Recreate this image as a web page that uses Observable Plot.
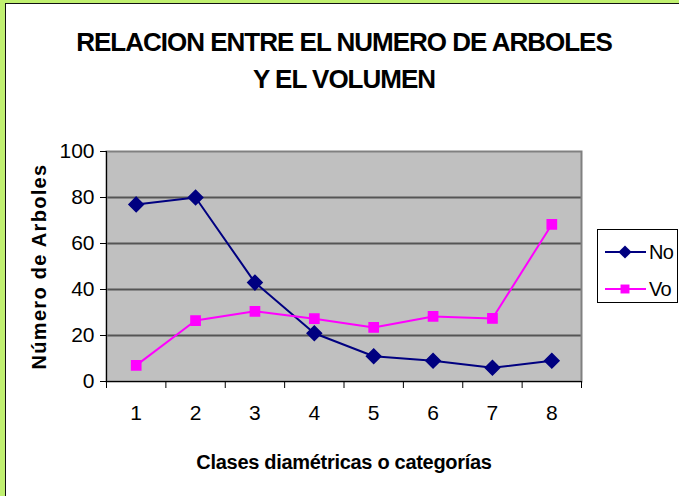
<!DOCTYPE html>
<html>
<head>
<meta charset="utf-8">
<script src="https://cdn.jsdelivr.net/npm/d3@7"></script>
<script src="https://cdn.jsdelivr.net/npm/@observablehq/plot@0.6"></script>
<style>
  html, body { margin: 0; padding: 0; background: #fff; }
  #page { position: relative; width: 679px; height: 496px; overflow: hidden; background: #fff;
          font-family: "Liberation Sans", Arial, sans-serif; }
  #gl { position: absolute; left: 0; top: 0; width: 5px; height: 496px; background: #c0f070; }
  #gt { position: absolute; left: 0; top: 0; width: 679px; height: 3px; background: #c0f070; }
  #bl { position: absolute; left: 5px; top: 3px; width: 1px; height: 493px; background: #111; }
  #bt { position: absolute; left: 5px; top: 3px; width: 674px; height: 1px; background: #111; }
  #chart { position: absolute; left: 0; top: 0; }
  #legend { position: absolute; left: 597px; top: 229px; width: 81px; height: 74px; border: 1px solid #000; background: #fff; box-sizing: border-box; }
</style>
</head>
<body>
<div id="page">
  <div id="chart"></div>
  <div id="gl"></div><div id="gt"></div><div id="bl"></div><div id="bt"></div>
  <div id="legend"></div>
</div>
<script>
const categories = [1, 2, 3, 4, 5, 6, 7, 8];
const noValues = [77, 80, 43, 21, 11, 9, 6, 9];
const voValues = [7, 26.5, 30.5, 27.3, 23.5, 28.3, 27.4, 68.3];
const yTicks = [0, 20, 40, 60, 80, 100];
const seriesNames = ["No", "Vo"];
const seriesColors = ["#000080", "#ff00ff"];
const titleLines = ["RELACION ENTRE EL NUMERO DE ARBOLES", "Y EL VOLUMEN"];
const xLabel = "Clases diamétricas o categorías";
const yLabel = "Número de Arboles";

const boundaries = [0.5, ...categories.map(c => c + 0.5)];
const rows = [
  ...categories.map((c, i) => ({cat: c, value: noValues[i], series: "No"})),
  ...categories.map((c, i) => ({cat: c, value: voValues[i], series: "Vo"}))
];
const noRows = rows.filter(d => d.series === "No");
const voRows = rows.filter(d => d.series === "Vo");

const font = `"Liberation Sans", Arial, sans-serif`;

const chart = Plot.plot({
  width: 679,
  height: 496,
  marginLeft: 106,
  marginRight: 98,
  marginTop: 151,
  marginBottom: 115,
  style: {background: "transparent", fontFamily: font, color: "#000"},
  x: {type: "linear", domain: [0.5, 8.5]},
  y: {domain: [0, 100]},
  marks: [
    Plot.frame({fill: "#c0c0c0"}),
    Plot.gridY(yTicks.slice(1, -1), {stroke: "#555", strokeWidth: 2, strokeOpacity: 1}),
    Plot.frame({stroke: "#808080", strokeWidth: 2}),
    Plot.ruleY([0], {stroke: "#000", strokeWidth: 1}),
    Plot.ruleX([0.5], {stroke: "#000", strokeWidth: 1}),
    Plot.axisY({ticks: yTicks, tickSize: 6, tickPadding: 6, fontSize: 21, label: null, stroke: "#000", fill: "#000"}),
    Plot.axisX({ticks: boundaries, tickSize: 7, tickFormat: () => "", label: null, stroke: "#000"}),
    Plot.axisX({ticks: categories, tickSize: 0, tickPadding: 24, fontSize: 21, label: null, fill: "#000"}),
    Plot.line(noRows, {x: "cat", y: "value", stroke: seriesColors[0], strokeWidth: 2}),
    Plot.line(voRows, {x: "cat", y: "value", stroke: seriesColors[1], strokeWidth: 2}),
    Plot.dot(noRows, {x: "cat", y: "value", symbol: "diamond2", r: 6.5, fill: seriesColors[0], stroke: seriesColors[0]}),
    Plot.dot(voRows, {x: "cat", y: "value", symbol: "square", r: 5.2, fill: seriesColors[1], stroke: seriesColors[1]}),
    Plot.text([titleLines[0]], {frameAnchor: "top", dy: -109, fontSize: 26, fontWeight: "bold", fill: "#000", lineAnchor: "middle"}),
    Plot.text([titleLines[1]], {frameAnchor: "top", dy: -72, fontSize: 26, fontWeight: "bold", fill: "#000", lineAnchor: "middle"}),
    Plot.text([xLabel], {frameAnchor: "bottom", dy: 81, fontSize: 20, fontWeight: "bold", fill: "#000", lineAnchor: "middle"}),
    Plot.text([yLabel], {frameAnchor: "left", dx: -67, rotate: -90, textAnchor: "middle", fontSize: 20, fontWeight: "bold", fill: "#000", lineAnchor: "middle"})
  ]
});
document.getElementById("chart").appendChild(chart);

// Per-text letter spacing adjustments
d3.select(chart).selectAll("text").each(function() {
  const t = this.textContent;
  if (t === titleLines[0] || t === titleLines[1]) this.setAttribute("letter-spacing", "-1");
  else if (t === yLabel) this.setAttribute("letter-spacing", "1.3");
  else if (t === xLabel) this.setAttribute("letter-spacing", "-0.3");
});

// Legend
const leg = d3.select("#legend").append("svg").attr("width", 79).attr("height", 72);
seriesNames.forEach((name, i) => {
  const cy = 22 + i * 37;
  const g = leg.append("g");
  g.append("line").attr("x1", 7).attr("x2", 48).attr("y1", cy).attr("y2", cy)
    .attr("stroke", seriesColors[i]).attr("stroke-width", 2);
  const sym = i === 0 ? d3.symbol(d3.symbolDiamond2, 110) : d3.symbol(d3.symbolSquare, 80);
  g.append("path").attr("d", sym()).attr("transform", `translate(27,${cy})`).attr("fill", seriesColors[i]);
  g.append("text").attr("x", 51).attr("y", cy).attr("dy", "0.36em").attr("letter-spacing", "-0.8")
    .attr("font-size", 20).attr("font-family", font).attr("fill", "#000").text(name);
});
</script>
</body>
</html>
